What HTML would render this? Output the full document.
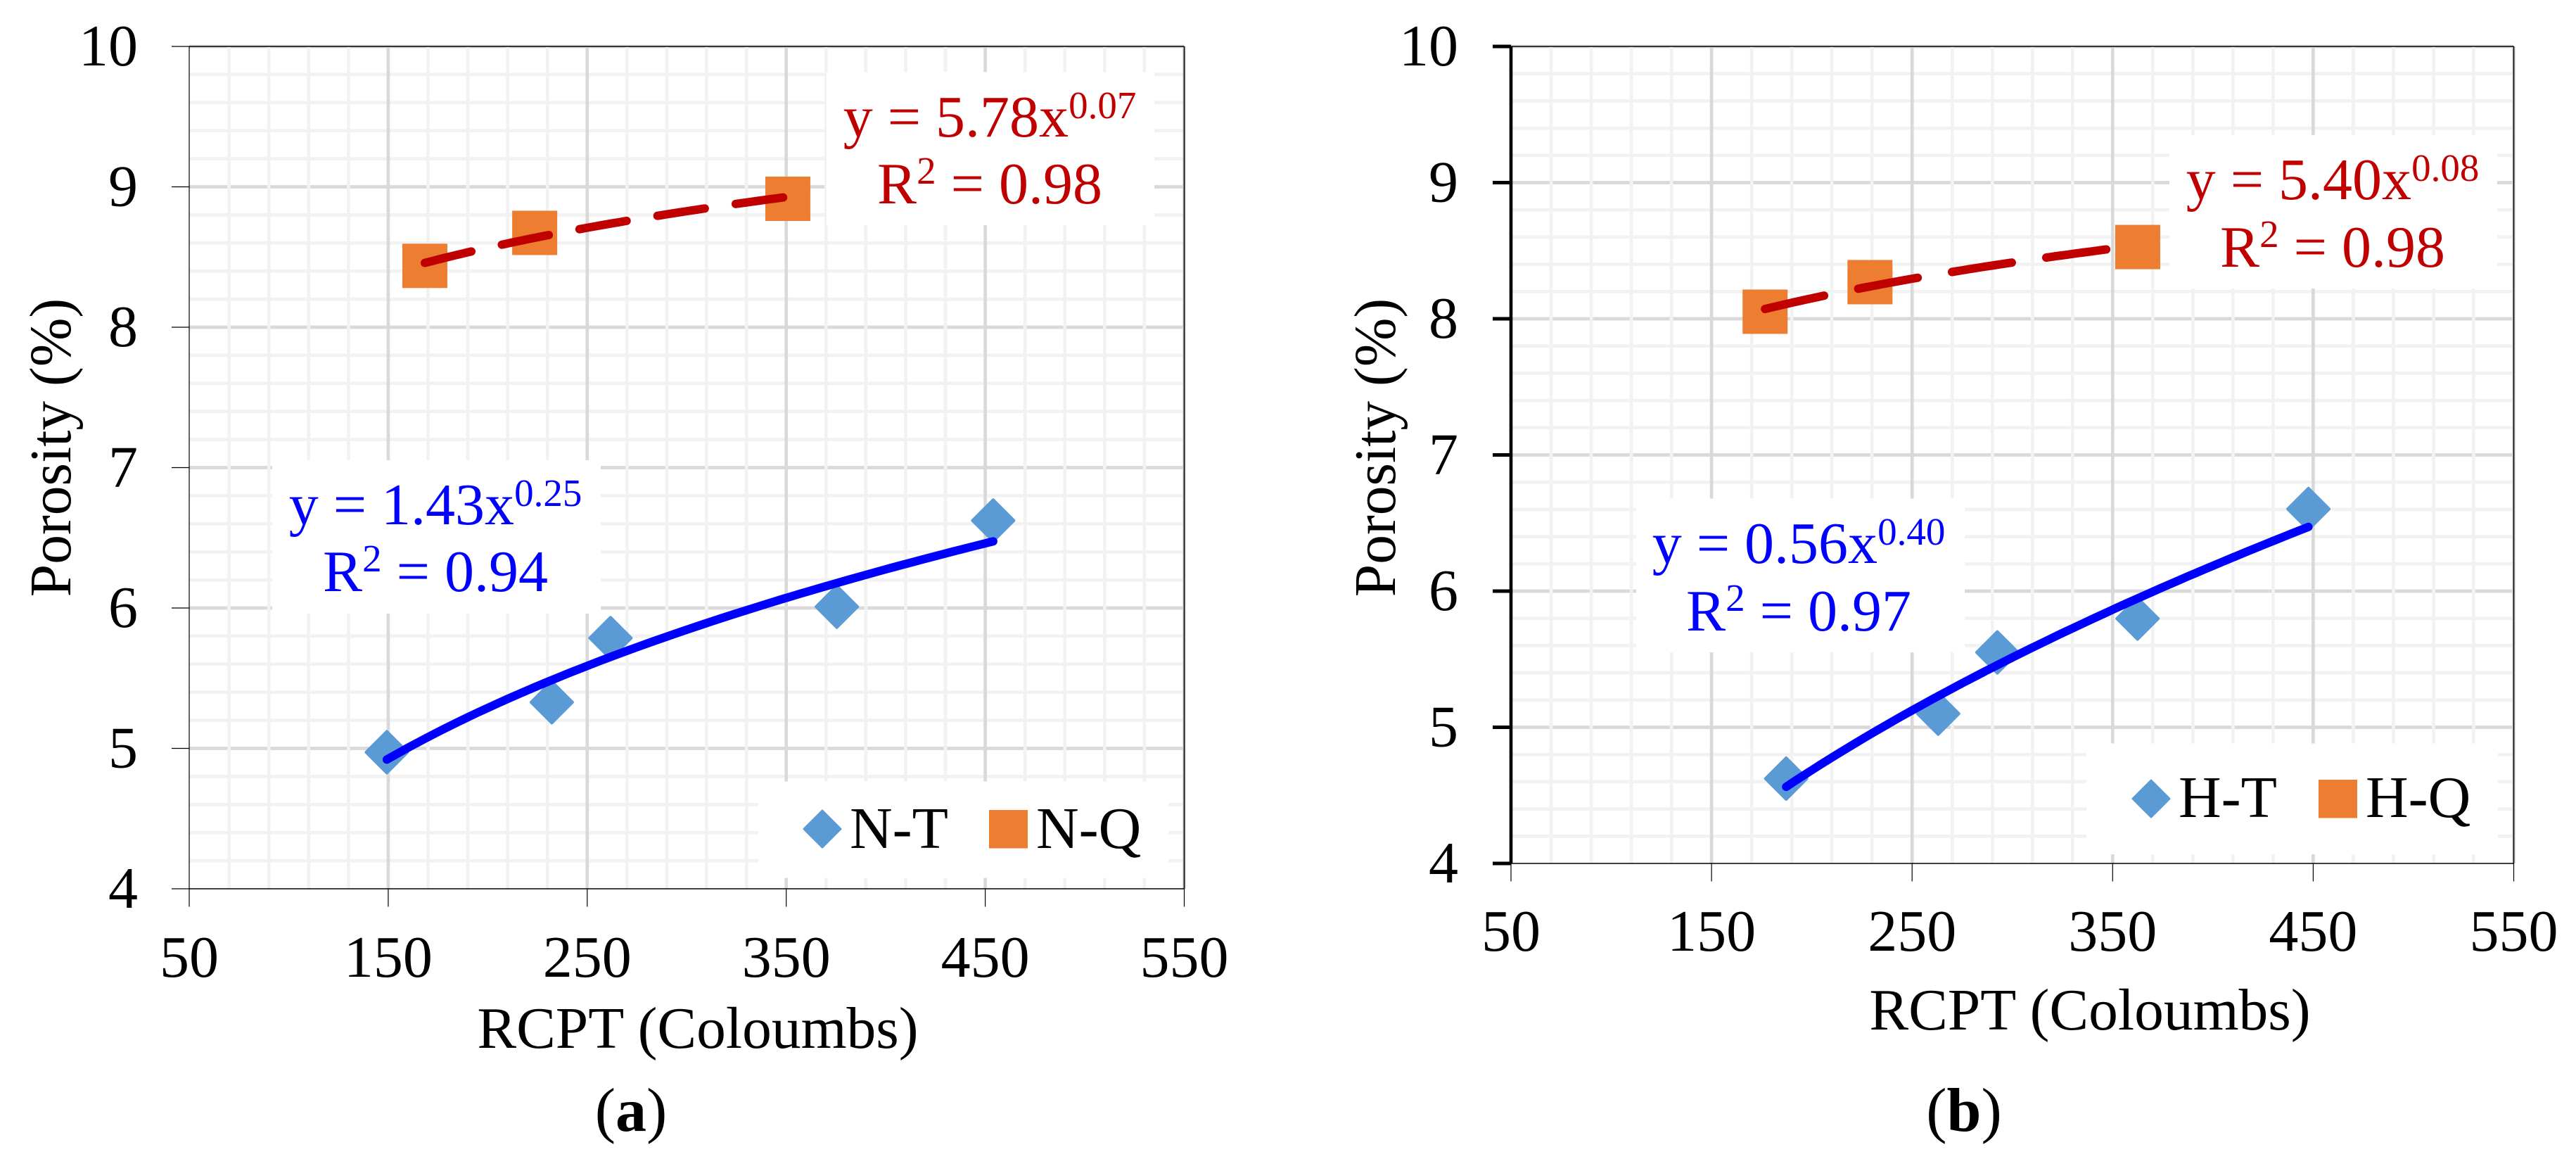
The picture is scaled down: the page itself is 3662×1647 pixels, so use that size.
<!DOCTYPE html>
<html lang="en">
<head>
<meta charset="utf-8">
<title>Porosity vs RCPT</title>
<style>
html,body{margin:0;padding:0;background:#fff;width:3662px;height:1647px;overflow:hidden}
svg{display:block;position:absolute;left:0;top:0}
text{font-family:"Liberation Serif","Times New Roman",serif;font-size:84px;fill:#000}
.sup{font-size:55px}
.title{font-size:83.5px}
.caption{font-size:88px}
.red{fill:#c00000}
.blue{fill:#0000ff}
</style>
</head>
<body>
<svg id="figure" xmlns="http://www.w3.org/2000/svg" width="3662" height="1647" viewBox="0 0 3662 1647">
  <rect x="0" y="0" width="3662" height="1647" fill="#ffffff"/>

  <g id="panel-a">
    <g id="grid-a"></g>
    <rect x="1175" y="102.5" width="466" height="217.5" fill="#fff"/>
    <rect x="387" y="654" width="467" height="218" fill="#fff"/>
    <rect x="1078" y="1110.6" width="583" height="137" fill="#fff"/>
    <text class="red" x="1407" y="194" text-anchor="middle">y = 5.78x<tspan class="sup" dy="-26">0.07</tspan></text>
    <text class="red" x="1407" y="289" text-anchor="middle">R<tspan class="sup" dy="-28">2</tspan><tspan dy="28"> = 0.98</tspan></text>
    <text class="blue" x="619" y="745" text-anchor="middle">y = 1.43x<tspan class="sup" dy="-26">0.25</tspan></text>
    <text class="blue" x="619" y="840" text-anchor="middle">R<tspan class="sup" dy="-28">2</tspan><tspan dy="28"> = 0.94</tspan></text>
    <g id="axes-a"></g>
    <g id="marks-a"></g>
    <polygon points="1169,1152 1195,1178 1169,1204 1143,1178" fill="#5b9bd5" stroke="#5b9bd5" stroke-width="3" stroke-linejoin="round"/>
    <text x="1208" y="1205">N-T</text>
    <rect x="1406" y="1151" width="55" height="54.5" fill="#ed7d31"/>
    <text x="1473" y="1205">N-Q</text>
    <text class="title" x="992" y="1489" text-anchor="middle">RCPT (Coloumbs)</text>
    <text class="title" x="0" y="0" text-anchor="middle" transform="translate(100,636) rotate(-90)">Porosity (%)</text>
    <text class="caption" x="897" y="1607" text-anchor="middle">(<tspan font-weight="bold">a</tspan>)</text>
  </g>

  <g id="panel-b">
    <g id="grid-b"></g>
    <rect x="3084" y="192" width="466" height="218" fill="#fff"/>
    <rect x="2326" y="708.5" width="467" height="218.5" fill="#fff"/>
    <rect x="2966" y="1056.5" width="585" height="157.5" fill="#fff"/>
    <text class="red" x="3316" y="283" text-anchor="middle">y = 5.40x<tspan class="sup" dy="-26">0.08</tspan></text>
    <text class="red" x="3316" y="379" text-anchor="middle">R<tspan class="sup" dy="-28">2</tspan><tspan dy="28"> = 0.98</tspan></text>
    <text class="blue" x="2557" y="800" text-anchor="middle">y = 0.56x<tspan class="sup" dy="-26">0.40</tspan></text>
    <text class="blue" x="2557" y="896" text-anchor="middle">R<tspan class="sup" dy="-28">2</tspan><tspan dy="28"> = 0.97</tspan></text>
    <g id="axes-b"></g>
    <g id="marks-b"></g>
    <polygon points="3058,1109 3084,1135 3058,1161 3032,1135" fill="#5b9bd5" stroke="#5b9bd5" stroke-width="3" stroke-linejoin="round"/>
    <text x="3097" y="1161">H-T</text>
    <rect x="3296" y="1108" width="55" height="54.5" fill="#ed7d31"/>
    <text x="3363" y="1161">H-Q</text>
    <text class="title" x="2971" y="1463" text-anchor="middle">RCPT (Coloumbs)</text>
    <text class="title" x="0" y="0" text-anchor="middle" transform="translate(1983,636) rotate(-90)">Porosity (%)</text>
    <text class="caption" x="2792" y="1607" text-anchor="middle">(<tspan font-weight="bold">b</tspan>)</text>
  </g>
</svg>

<script>
// Chart data
const xTickLabels = [50, 150, 250, 350, 450, 550];
const yTickLabels = [4, 5, 6, 7, 8, 9, 10];

const ntRcpt = [149.3, 232.2, 261.7, 375.4, 454.0];
const ntPorosity = [4.973, 5.329, 5.786, 6.009, 6.623];
const nqRcpt = [168.4, 223.6, 350.8];
const nqPorosity = [8.437, 8.672, 8.915];

const htRcpt = [187.2, 263.0, 292.5, 362.4, 447.6];
const htPorosity = [4.623, 5.100, 5.550, 5.798, 6.603];
const hqRcpt = [176.7, 229.0, 362.5];
const hqPorosity = [8.052, 8.269, 8.527];
// In the H-Q series the printed trendline stops short of the last marker
const hqTrendEnd = 350.6;

const SVGNS = 'http://www.w3.org/2000/svg';

function make(tag, attrs, parent) {
  const el = document.createElementNS(SVGNS, tag);
  for (const k in attrs) el.setAttribute(k, attrs[k]);
  parent.appendChild(el);
  return el;
}

// Power-law least-squares trend, as the spreadsheet trendline does
function powerFit(xs, ys) {
  const lx = xs.map(Math.log), ly = ys.map(Math.log), n = xs.length;
  const mx = lx.reduce((a, b) => a + b, 0) / n, my = ly.reduce((a, b) => a + b, 0) / n;
  let sxy = 0, sxx = 0;
  for (let i = 0; i < n; i++) { sxy += (lx[i] - mx) * (ly[i] - my); sxx += (lx[i] - mx) * (lx[i] - mx); }
  const b = sxy / sxx;
  return { a: Math.exp(my - b * mx), b: b };
}

function trendPath(xs, ys, sx, sy, end) {
  const fit = powerFit(xs, ys);
  const lo = Math.min.apply(null, xs), hi = end || Math.max.apply(null, xs);
  let d = '';
  for (let i = 0; i <= 60; i++) {
    const v = lo + (hi - lo) * i / 60;
    d += (i ? 'L' : 'M') + sx(v).toFixed(1) + ' ' + sy(fit.a * Math.pow(v, fit.b)).toFixed(1);
  }
  return d;
}

function drawPanel(p) {
  const sx = v => p.left + (v - xTickLabels[0]) * (p.right - p.left) / (xTickLabels[xTickLabels.length - 1] - xTickLabels[0]);
  const sy = v => p.bottom - (v - yTickLabels[0]) * (p.bottom - p.top) / (yTickLabels[yTickLabels.length - 1] - yTickLabels[0]);
  const grid = document.getElementById('grid-' + p.id);
  const axes = document.getElementById('axes-' + p.id);
  const marks = document.getElementById('marks-' + p.id);

  // horizontal gridlines first, verticals on top
  for (let i = 1; i <= 30; i++) {
    const v = 4 + i * 0.2;
    const major = i % 5 === 0;
    const line = make('line', { x1: p.left, x2: p.right, y1: sy(v), y2: sy(v), stroke: major ? '#d9d9d9' : '#f2f2f2', 'stroke-width': 4.7 }, grid);
    
    
  }
  for (let pass = 0; pass < 2; pass++) {
    for (let i = 1; i <= 25; i++) {
      const major = i % 5 === 0;
      if (major !== (pass === 1)) continue;
      const v = 50 + i * 20;
      const line = make('line', { x1: sx(v), x2: sx(v), y1: p.top, y2: p.bottom, stroke: major ? '#d9d9d9' : '#f2f2f2', 'stroke-width': 4.7 }, grid);
      
      
    }
  }

  // axis frame
  const frame = [
    [p.left, p.top, p.right, p.top, 1.6, 'top-border'],
    [p.right, p.top, p.right, p.bottom, 1.6, 'right-border'],
    [p.left, p.bottom, p.right, p.bottom, 1.6, 'x-axis-line'],
    [p.left, p.top, p.left, p.bottom, p.yAxisWidth, 'y-axis-line']
  ];
  frame.forEach(f => {
    const line = make('line', { x1: f[0], y1: f[1], x2: f[2], y2: f[3], stroke: '#000', 'stroke-width': f[4] }, axes);
    
    
  });

  // x ticks and labels
  xTickLabels.forEach(v => {
    const tick = make('line', { x1: sx(v), x2: sx(v), y1: p.bottom, y2: p.bottom + 25.5, stroke: '#000', 'stroke-width': 1.2 }, axes);
    
    
    const label = make('text', { x: sx(v), y: p.bottom + p.xLabelOffset, 'text-anchor': 'middle' }, axes);
    
    
    label.textContent = v;
  });

  // y ticks and labels
  yTickLabels.forEach(v => {
    const tick = make('line', { x1: p.left - p.yTickLen, x2: p.left, y1: sy(v), y2: sy(v), stroke: '#000', 'stroke-width': p.yTickWidth }, axes);
    
    
    const label = make('text', { x: p.yLabelRight, y: sy(v) + 27, 'text-anchor': 'end' }, axes);
    
    
    label.textContent = v;
  });

  // ternary diamonds
  p.tX.forEach((v, i) => {
    const cx = sx(v), cy = sy(p.tY[i]), r = 29.5;
    const pts = [[cx, cy - r], [cx + r, cy], [cx, cy + r], [cx - r, cy]].map(q => q[0].toFixed(1) + ',' + q[1].toFixed(1)).join(' ');
    const dot = make('polygon', { points: pts, fill: '#5b9bd5', stroke: '#5b9bd5', 'stroke-width': 4, 'stroke-linejoin': 'round' }, marks);
    
    
  });

  // quaternary squares
  p.qX.forEach((v, i) => {
    const cx = sx(v), cy = sy(p.qY[i]);
    const sq = make('rect', { x: cx - 32, y: cy - 31.5, width: 64, height: 63, fill: '#ed7d31' }, marks);
    
    
  });

  // trendlines
  const tLine = make('path', { d: trendPath(p.tX, p.tY, sx, sy), fill: 'none', stroke: '#0000ff', 'stroke-width': 12, 'stroke-linecap': 'round' }, marks);
  
  
  const qLine = make('path', { d: trendPath(p.qX, p.qY, sx, sy, p.qEnd), fill: 'none', stroke: '#c00000', 'stroke-width': 12, 'stroke-linecap': 'round', 'stroke-dasharray': p.dash }, marks);
  
  
}

drawPanel({ id: 'a', left: 269, right: 1683.5, top: 66, bottom: 1263, yAxisWidth: 1.2, yTickLen: 25, yTickWidth: 1.2, xLabelOffset: 125, yLabelRight: 196, dash: '68 44.5', tX: ntRcpt, tY: ntPorosity, qX: nqRcpt, qY: nqPorosity });
drawPanel({ id: 'b', left: 2148, right: 3573.5, top: 66, bottom: 1227, yAxisWidth: 4.6, yTickLen: 26, yTickWidth: 5, xLabelOffset: 124, yLabelRight: 2073, dash: '86 49.5', tX: htRcpt, tY: htPorosity, qX: hqRcpt, qY: hqPorosity, qEnd: hqTrendEnd });
</script>
</body>
</html>
